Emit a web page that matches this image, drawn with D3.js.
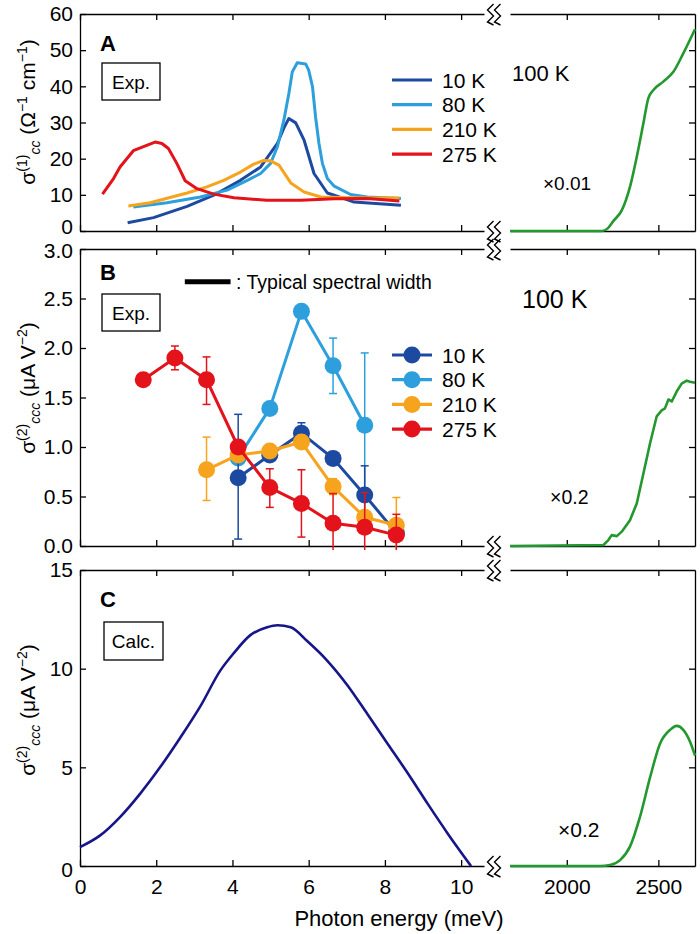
<!DOCTYPE html>
<html>
<head>
<meta charset="utf-8">
<script src="https://cdn.jsdelivr.net/npm/d3@7"></script>
<style>
  body { margin: 0; background: #fff; }
  svg { display: block; font-family: "Liberation Sans", Arial, sans-serif; }
</style>
</head>
<body>
<svg id="chart" width="700" height="934"></svg>
<script>
// Noms des séries et couleurs
const temps = ["10 K", "80 K", "210 K", "275 K"];
const colors = ["#1c4aa0", "#2c9fdc", "#f6a41d", "#e3121b"];
const green = "#23982f";
const navy = "#16168a";

// Panneau A : sigma(1) mesuré (meV, Ω^-1 cm^-1)
const a10E = [1.25, 1.93, 2.81, 3.51, 4.21, 4.74, 5.18, 5.35, 5.48, 5.66, 5.88, 6.14, 6.49, 6.67, 7.19, 8.42];
const a10V = [2.3, 3.7, 6.8, 9.9, 14.0, 17.7, 24.2, 28.5, 31.1, 29.9, 25.1, 15.9, 10.5, 9.9, 8.0, 7.1];
const a80E = [1.40, 2.28, 3.16, 3.86, 4.39, 4.74, 5.0, 5.18, 5.35, 5.48, 5.57, 5.70, 5.92, 6.0, 6.10, 6.18, 6.27, 6.36, 6.49, 6.67, 7.10, 7.54, 8.42];
const a80V = [6.6, 7.8, 9.4, 11.3, 14.0, 15.9, 18.7, 23.3, 30.7, 38.0, 44.0, 46.5, 46.2, 44.5, 39.9, 31.6, 24.2, 18.7, 14.5, 12.4, 10.1, 9.4, 9.0];
const a210E = [1.27, 1.84, 2.81, 3.33, 3.77, 4.21, 4.56, 4.82, 5.0, 5.22, 5.53, 5.88, 6.32, 7.10, 8.38];
const a210V = [6.9, 7.8, 10.5, 12.2, 14.0, 16.3, 18.5, 19.5, 19.4, 18.2, 13.3, 10.8, 9.4, 9.2, 9.1];
const a275E = [0.59, 0.88, 1.05, 1.40, 1.75, 1.97, 2.15, 2.32, 2.54, 2.76, 3.07, 3.51, 4.04, 4.90, 5.80, 6.67, 7.54, 8.38];
const a275V = [10.2, 14.5, 17.7, 22.2, 23.7, 24.6, 24.2, 22.8, 18.7, 13.9, 11.7, 10.2, 9.2, 8.5, 8.5, 8.9, 9.0, 8.3];

// Panneau A : 100 K haute énergie (×0.01)
const gAE = [1690, 2191, 2225, 2255, 2300, 2345, 2382, 2418, 2445, 2473, 2527, 2582, 2636, 2700];
const gAV = [0, 0, 0.8, 2.8, 5.7, 12.2, 20.5, 29.7, 36.7, 39.0, 41.3, 44.0, 49.1, 55.8];

// Panneau B : sigma(2) mesuré avec barres d'erreur
const b10E = [4.15, 4.98, 5.81, 6.64, 7.47, 8.30];
const b10V = [0.69, 0.92, 1.14, 0.885, 0.515, 0.13];
const b10Hi = [1.33, null, 1.245, null, 0.81, null];
const b10Lo = [0.07, null, 1.04, null, 0.22, null];

const b80E = [4.15, 4.98, 5.81, 6.64, 7.47];
const b80V = [0.89, 1.39, 2.37, 1.82, 1.22];
const b80Hi = [null, null, null, 2.10, 1.95];
const b80Lo = [null, null, null, 1.54, 0.49];

const b210E = [3.32, 4.15, 4.98, 5.81, 6.64, 7.47, 8.30];
const b210V = [0.77, 0.92, 0.96, 1.05, 0.60, 0.29, 0.21];
const b210Hi = [1.10, null, null, null, 0.68, null, 0.49];
const b210Lo = [0.46, null, null, null, 0.52, null, -0.04];

const b275E = [1.66, 2.49, 3.32, 4.15, 4.98, 5.81, 6.64, 7.47, 8.30];
const b275V = [1.68, 1.90, 1.68, 1.00, 0.59, 0.43, 0.23, 0.19, 0.11];
const b275Hi = [null, 2.02, 1.91, null, 0.78, 0.77, 0.53, 0.54, 0.32];
const b275Lo = [null, 1.78, 1.43, null, 0.39, 0.09, -0.04, -0.04, -0.04];

// Largeur spectrale typique (meV) et sa hauteur
const widthBar = [2.75, 3.95];
const widthBarY = 2.67;

// Panneau B : 100 K haute énergie (×0.2)
const gBE = [1690, 2200, 2227, 2245, 2273, 2300, 2345, 2382, 2418, 2455, 2491, 2518, 2536, 2555, 2573, 2600, 2627, 2655, 2673, 2700];
const gBV = [0, 0.01, 0.06, 0.11, 0.10, 0.145, 0.26, 0.43, 0.73, 1.04, 1.31, 1.37, 1.39, 1.48, 1.46, 1.56, 1.64, 1.67, 1.66, 1.65];

// Panneau C : calcul
const cE = [0, 0.53, 1.05, 1.58, 2.1, 2.63, 3.16, 3.68, 4.04, 4.47, 4.91, 5.18, 5.53, 5.96, 6.49, 7.02, 7.54, 8.07, 8.6, 9.12, 9.65, 10.26];
const cV = [0.96, 1.55, 2.48, 3.67, 5.0, 6.5, 8.1, 9.9, 10.8, 11.7, 12.1, 12.2, 12.1, 11.4, 10.4, 9.15, 7.7, 6.2, 4.7, 3.16, 1.64, 0];
const gCE = [1690, 2182, 2236, 2291, 2345, 2400, 2455, 2509, 2564, 2600, 2636, 2673, 2700];
const gCV = [0, 0, 0.05, 0.3, 0.98, 2.5, 4.5, 6.2, 6.9, 7.1, 6.9, 6.3, 5.6];

// Graduations
const xTicksLeft = [0, 2, 4, 6, 8, 10];
const xTicksRight = [2000, 2500];
const yTicksA = [0, 10, 20, 30, 40, 50, 60];
const yTicksB = [0, 0.5, 1.0, 1.5, 2.0, 2.5, 3.0];
const yTicksC = [0, 5, 10, 15];

const svg = d3.select("#chart");
const FONT = "Liberation Sans, Arial, sans-serif";

// Échelles horizontales (coupure entre les deux parties)
const xL = d3.scaleLinear().domain([0, 10.6]).range([80, 484]);
const xR = d3.scaleLinear().domain([1690, 2700]).range([510, 695]);

// Échelles verticales des trois panneaux
const yA = d3.scaleLinear().domain([0, 60]).range([231, 14]);
const yB = d3.scaleLinear().domain([0, 3]).range([546, 249]);
const yC = d3.scaleLinear().domain([0, 15]).range([866, 570]);

function styleAxis(g, size) {
  g.attr("font-family", FONT).attr("font-size", size || 21);
  g.selectAll("path, line").attr("stroke", "#000").attr("stroke-width", 1.3);
  g.selectAll("text").attr("fill", "#000");
}

// Cadre d'un panneau : axes intérieurs, miroirs et coupures
// nudge : petit décalage vertical des étiquettes extrêmes (bas, haut)
function frame(y, ticks, fmt, labelsX, nudge) {
  const [bot, top] = y.range();
  const inner = ticks.slice(1, -1);

  const gy = svg.append("g").attr("transform", `translate(${xL.range()[0]},0)`)
    .call(d3.axisLeft(y).tickValues(ticks).tickSize(-6).tickSizeOuter(0).tickPadding(7).tickFormat(fmt))
    .call(styleAxis);
  gy.selectAll(".tick text")
    .attr("transform", d => d === ticks[0] ? `translate(0,${nudge[0]})`
      : d === ticks[ticks.length - 1] ? `translate(0,${nudge[1]})` : null);

  svg.append("g").attr("transform", `translate(0,${bot})`)
    .call(d3.axisBottom(xL).tickValues(xTicksLeft).tickSize(-6).tickSizeOuter(0).tickPadding(13)
      .tickFormat(labelsX ? d3.format("d") : ""))
    .call(styleAxis);
  svg.append("g").attr("transform", `translate(0,${top})`)
    .call(d3.axisTop(xL).tickValues(xTicksLeft).tickSize(-6).tickSizeOuter(0).tickFormat(""))
    .call(styleAxis);

  svg.append("g").attr("transform", `translate(0,${bot})`)
    .call(d3.axisBottom(xR).tickValues(xTicksRight).tickSize(-6).tickSizeOuter(0).tickPadding(13)
      .tickFormat(labelsX ? d3.format("d") : ""))
    .call(styleAxis);
  svg.append("g").attr("transform", `translate(0,${top})`)
    .call(d3.axisTop(xR).tickValues(xTicksRight).tickSize(-6).tickSizeOuter(0).tickFormat(""))
    .call(styleAxis);
  svg.append("g").attr("transform", `translate(${xR.range()[1]},0)`)
    .call(d3.axisRight(y).tickValues(inner).tickSize(-6).tickSizeOuter(0).tickFormat(""))
    .call(styleAxis);
}

// Symbole de coupure (double zigzag)
function breakMark(yPos) {
  const cx = 494;
  for (const off of [-3.5, 3.5]) {
    const pts = [[3, -10], [-3, -4], [3, 2], [-3, 8], [3, 11]]
      .map(([dx, dy]) => [cx + off + dx, yPos + dy]);
    svg.append("path")
      .attr("d", d3.line()(pts))
      .attr("fill", "none").attr("stroke", "#000").attr("stroke-width", 1.4);
  }
}

// Titre d'axe vertical avec indices et exposants
function yTitle(cx, cy, parts) {
  const t = svg.append("text")
    .attr("transform", `translate(${cx},${cy}) rotate(-90)`)
    .attr("text-anchor", "middle")
    .attr("font-size", 21).attr("font-family", FONT);
  let shift = 0;
  for (const p of parts) {
    const target = p.sup ? -8 : p.sub ? 5 : 0;
    t.append("tspan")
      .attr("dy", target - shift)
      .attr("font-size", p.sup || p.sub ? 14 : 21)
      .attr("font-style", p.it ? "italic" : null)
      .text(p.t);
    shift = target;
  }
}

function boxLabel(x, y, w, h, txt) {
  svg.append("rect").attr("x", x).attr("y", y).attr("width", w).attr("height", h)
    .attr("fill", "#fff").attr("stroke", "#000").attr("stroke-width", 1.3);
  svg.append("text").attr("x", x + w / 2).attr("y", y + h / 2 + 7)
    .attr("text-anchor", "middle").attr("font-size", 19).attr("font-family", FONT).text(txt);
}

function text(x, y, txt, size, bold) {
  svg.append("text").attr("x", x).attr("y", y)
    .attr("font-size", size).attr("font-family", FONT)
    .attr("font-weight", bold ? "bold" : null).text(txt);
}

function curve(E, V, x, y, color, width, smooth) {
  svg.append("path")
    .datum(E.map((e, i) => [e, V[i]]))
    .attr("fill", "none").attr("stroke", color).attr("stroke-width", width)
    .attr("stroke-linejoin", "round")
    .attr("d", d3.line().x(d => x(d[0])).y(d => y(d[1]))
      .curve(smooth ? d3.curveMonotoneX : d3.curveLinear));
}

// ---------- Panneau A ----------
frame(yA, yTicksA, d3.format("d"), false, [-4, 0]);
const aSeries = [[a10E, a10V], [a80E, a80V], [a210E, a210V], [a275E, a275V]];
aSeries.forEach(([E, V], i) => curve(E, V, xL, yA, colors[i], 3));
curve(gAE, gAV, xR, yA, green, 2.6, true);

text(100, 51, "A", 22, true);
boxLabel(102, 63, 58, 37, "Exp.");
temps.forEach((t, i) => {
  const ly = 80 + i * 24.7;
  svg.append("line").attr("x1", 392).attr("x2", 432).attr("y1", ly).attr("y2", ly)
    .attr("stroke", colors[i]).attr("stroke-width", 3.2);
  text(442, ly + 7.5, t, 21);
});
text(512, 81, "100 K", 22);
text(543, 190, "×0.01", 19);

// ---------- Panneau B ----------
frame(yB, yTicksB, d3.format(".1f"), false, [0, 2]);
const bSeries = [
  [b80E, b80V, b80Hi, b80Lo, 1],
  [b10E, b10V, b10Hi, b10Lo, 0],
  [b210E, b210V, b210Hi, b210Lo, 2],
  [b275E, b275V, b275Hi, b275Lo, 3]
];
bSeries.forEach(([E, V, Hi, Lo, ci]) => {
  const c = colors[ci];
  const g = svg.append("g");
  E.forEach((e, i) => {
    if (Hi[i] == null) return;
    const xx = xL(e);
    g.append("line").attr("x1", xx).attr("x2", xx).attr("y1", yB(Hi[i])).attr("y2", yB(Lo[i]))
      .attr("stroke", c).attr("stroke-width", 1.5);
    for (const v of [Hi[i], Lo[i]]) {
      if (v < 0) continue;
      g.append("line").attr("x1", xx - 4).attr("x2", xx + 4).attr("y1", yB(v)).attr("y2", yB(v))
        .attr("stroke", c).attr("stroke-width", 1.5);
    }
  });
  curve(E, V, xL, yB, c, 3);
  svg.append("g").selectAll("circle").data(E).join("circle")
    .attr("cx", d => xL(d)).attr("cy", (d, i) => yB(V[i])).attr("r", 8.5).attr("fill", c);
});
curve(gBE, gBV, xR, yB, green, 2.6, false);

text(100, 280, "B", 22, true);
boxLabel(102, 294, 58, 37, "Exp.");
svg.append("line").attr("x1", xL(widthBar[0])).attr("x2", xL(widthBar[1]))
  .attr("y1", yB(widthBarY)).attr("y2", yB(widthBarY))
  .attr("stroke", "#000").attr("stroke-width", 5);
text(236, yB(widthBarY) + 7, ": Typical spectral width", 19.5);
temps.forEach((t, i) => {
  const ly = 355 + i * 24.7;
  svg.append("line").attr("x1", 392).attr("x2", 432).attr("y1", ly).attr("y2", ly)
    .attr("stroke", colors[i]).attr("stroke-width", 3.2);
  svg.append("circle").attr("cx", 412).attr("cy", ly).attr("r", 8.5).attr("fill", colors[i]);
  text(442, ly + 7.5, t, 21);
});
text(522, 308, "100 K", 25);
text(550, 504, "×0.2", 19.5);

// ---------- Panneau C ----------
frame(yC, yTicksC, d3.format("d"), true, [4, 0]);
curve(cE, cV, xL, yC, navy, 2.6, true);
curve(gCE, gCV, xR, yC, green, 2.6, true);

text(100, 607, "C", 22, true);
boxLabel(104, 622, 59, 38, "Calc.");
text(558, 837, "×0.2", 21);

// Coupures
[yA, yB, yC].forEach(y => y.range().forEach(breakMark));

// Titres des axes
yTitle(35, 112, [
  { t: "σ" }, { t: "(1)", sup: true }, { t: "cc", sub: true, it: true },
  { t: " (Ω" }, { t: "−1", sup: true }, { t: " cm" }, { t: "−1", sup: true }, { t: ")" }
]);
const t2 = [
  { t: "σ" }, { t: "(2)", sup: true }, { t: "ccc", sub: true, it: true },
  { t: " (μA V" }, { t: "−2", sup: true }, { t: ")" }
];
yTitle(35, 388, t2);
yTitle(35, 710, t2);

svg.append("text").attr("x", 399).attr("y", 926).attr("text-anchor", "middle")
  .attr("font-size", 22).attr("font-family", FONT).text("Photon energy (meV)");
</script>
</body>
</html>
